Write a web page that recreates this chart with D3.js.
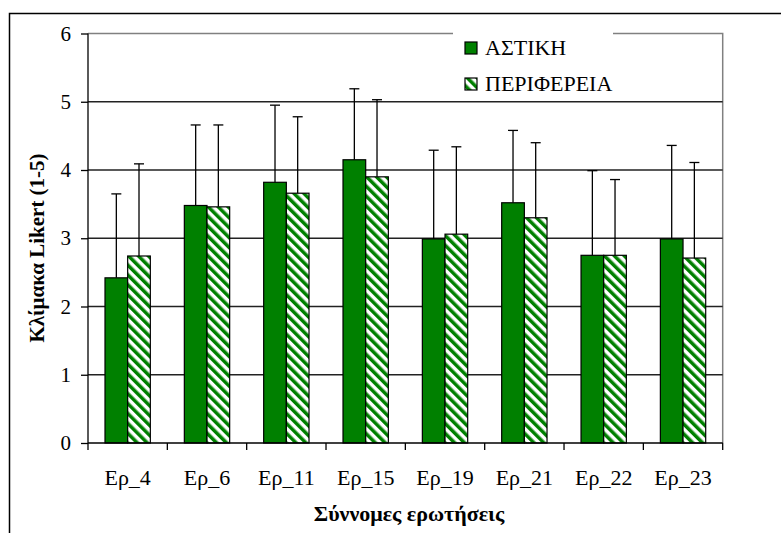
<!DOCTYPE html>
<html>
<head>
<meta charset="utf-8">
<script src="https://cdn.jsdelivr.net/npm/d3@7"></script>
<style>
  body { margin: 0; background: #fff; }
  svg text { font-family: "Liberation Serif", "Times New Roman", serif; fill: #000; }
</style>
</head>
<body>
<script>
// questions on the x axis
var categories = ["Ερ_4", "Ερ_6", "Ερ_11", "Ερ_15", "Ερ_19", "Ερ_21", "Ερ_22", "Ερ_23"];
var seriesNames = ["ΑΣΤΙΚΗ", "ΠΕΡΙΦΕΡΕΙΑ"];
// means per question
var astiki    = [2.42, 3.48, 3.82, 4.15, 2.99, 3.52, 2.75, 2.99];
var periferia = [2.74, 3.46, 3.66, 3.90, 3.06, 3.30, 2.75, 2.71];
// standard deviations (plus side only)
var astikiSD    = [1.23, 1.18, 1.13, 1.04, 1.30, 1.06, 1.24, 1.37];
var periferiaSD = [1.35, 1.20, 1.12, 1.13, 1.28, 1.10, 1.11, 1.40];
var yTicks = [0, 1, 2, 3, 4, 5, 6];

var W = 781, H = 533;
var plot = {left: 88, right: 722.7, top: 33.5, bottom: 443};
var green = "#008000";
var serif = '"Liberation Serif", "Times New Roman", serif';

var data = categories.map(function(c, i) {
  return {cat: c, values: [
    {s: seriesNames[0], v: astiki[i], sd: astikiSD[i]},
    {s: seriesNames[1], v: periferia[i], sd: periferiaSD[i]}
  ]};
});

var svg = d3.select("body").append("svg")
    .attr("width", W)
    .attr("height", H)
    .attr("font-family", serif);

var defs = svg.append("defs");
var pat = defs.append("pattern")
    .attr("id", "hatch")
    .attr("patternUnits", "userSpaceOnUse")
    .attr("width", 7)
    .attr("height", 7)
    .attr("patternTransform", "rotate(-45)");
pat.append("rect").attr("width", 7).attr("height", 7).attr("fill", "#fff");
pat.append("rect").attr("width", 3.5).attr("height", 7).attr("fill", green);

// outer chart frame (runs off the page right and bottom)
svg.append("rect")
    .attr("x", 9.5).attr("y", 13.5)
    .attr("width", 800).attr("height", 600)
    .attr("fill", "none")
    .attr("stroke", "#000")
    .attr("stroke-width", 1.5);

var x = d3.scaleBand().domain(categories).range([plot.left, plot.right]);
var bw = x.bandwidth() / 3.5;
var x1 = d3.scaleBand().domain(seriesNames)
    .range([(x.bandwidth() - 2 * bw) / 2, (x.bandwidth() + 2 * bw) / 2]);

var y = d3.scaleLinear().domain([0, 6]).range([plot.bottom, plot.top]);

// plot area border, top and right in gray
svg.append("path")
    .attr("d", "M" + plot.left + "," + y(6) + "H" + plot.right + "V" + plot.bottom)
    .attr("fill", "none")
    .attr("stroke", "#808080")
    .attr("stroke-width", 1.5);

// gridlines
svg.append("g")
  .selectAll("line")
  .data(yTicks.filter(function(t) { return t > 0 && t < 6; }))
  .enter().append("line")
    .attr("x1", plot.left).attr("x2", plot.right)
    .attr("y1", function(d) { return y(d); })
    .attr("y2", function(d) { return y(d); })
    .attr("stroke", "#222")
    .attr("stroke-width", 1.3);

// bars
var groups = svg.append("g").selectAll("g")
    .data(data)
  .enter().append("g")
    .attr("transform", function(d) { return "translate(" + x(d.cat) + ",0)"; });

groups.selectAll("rect")
    .data(function(d) { return d.values; })
  .enter().append("rect")
    .attr("x", function(d) { return x1(d.s); })
    .attr("y", function(d) { return y(d.v); })
    .attr("width", bw)
    .attr("height", function(d) { return y(0) - y(d.v); })
    .attr("fill", function(d, i) { return i == 0 ? green : "url(#hatch)"; })
    .attr("stroke", "#000")
    .attr("stroke-width", 1.2);

// error bars (upper only)
var err = groups.selectAll(".err")
    .data(function(d) { return d.values; })
  .enter().append("g")
    .attr("class", "err");
err.append("line")
    .attr("x1", function(d) { return x1(d.s) + bw / 2; })
    .attr("x2", function(d) { return x1(d.s) + bw / 2; })
    .attr("y1", function(d) { return y(d.v); })
    .attr("y2", function(d) { return y(d.v + d.sd); })
    .attr("stroke", "#000")
    .attr("stroke-width", 1.3);
err.append("line")
    .attr("x1", function(d) { return x1(d.s) + bw / 2 - 5; })
    .attr("x2", function(d) { return x1(d.s) + bw / 2 + 5; })
    .attr("y1", function(d) { return y(d.v + d.sd); })
    .attr("y2", function(d) { return y(d.v + d.sd); })
    .attr("stroke", "#000")
    .attr("stroke-width", 1.3);

// y axis
var yAxis = d3.axisLeft(y).tickValues(yTicks).tickSize(7).tickPadding(10).tickFormat(d3.format("d"));
svg.append("g")
    .attr("transform", "translate(" + plot.left + ",0)")
    .call(yAxis)
    .call(function(g) {
      g.attr("font-family", serif);
      g.selectAll("path, line").attr("stroke", "#000").attr("stroke-width", 1.3);
      g.select(".domain").attr("d", "M0," + y(6) + "V" + y(0));
      g.selectAll("text").style("font-size", "21px").style("font-family", serif);
    });

// x axis: ticks at category boundaries
svg.append("g")
    .append("line")
    .attr("x1", plot.left).attr("x2", plot.right)
    .attr("y1", y(0)).attr("y2", y(0))
    .attr("stroke", "#000").attr("stroke-width", 1.3);
svg.append("g")
  .selectAll("line")
  .data(categories.concat(["end"]))
  .enter().append("line")
    .attr("x1", function(d, i) { return plot.left + i * x.step(); })
    .attr("x2", function(d, i) { return plot.left + i * x.step(); })
    .attr("y1", y(0)).attr("y2", y(0) + 7)
    .attr("stroke", "#000").attr("stroke-width", 1.3);
svg.append("g")
  .selectAll("text")
  .data(categories)
  .enter().append("text")
    .attr("x", function(d) { return x(d) + x.bandwidth() / 2; })
    .attr("y", 485)
    .attr("text-anchor", "middle")
    .style("font-size", "22px")
    .text(function(d) { return d; });

// axis titles
svg.append("text")
    .attr("transform", "translate(44,248) rotate(-90)")
    .attr("text-anchor", "middle")
    .style("font-size", "21px")
    .style("font-weight", "bold")
    .text("Κλίμακα Likert (1-5)");
svg.append("text")
    .attr("x", 409)
    .attr("y", 521)
    .attr("text-anchor", "middle")
    .style("font-size", "22px")
    .style("font-weight", "bold")
    .text("Σύννομες ερωτήσεις");

// legend
var legend = svg.append("g");
legend.append("rect")
    .attr("x", 453).attr("y", 25)
    .attr("width", 160).attr("height", 72)
    .attr("fill", "#fff");
var li = legend.selectAll(".li")
    .data(seriesNames)
  .enter().append("g")
    .attr("transform", function(d, i) { return "translate(465," + (42 + i * 36) + ")"; });
li.append("rect")
    .attr("width", 12).attr("height", 12)
    .attr("fill", function(d, i) { return i == 0 ? green : "url(#hatch)"; })
    .attr("stroke", "#000")
    .attr("stroke-width", 1.2);
li.append("text")
    .attr("x", 20).attr("y", 13)
    .style("font-size", "22px")
    .text(function(d) { return d; });
</script>
</body>
</html>
